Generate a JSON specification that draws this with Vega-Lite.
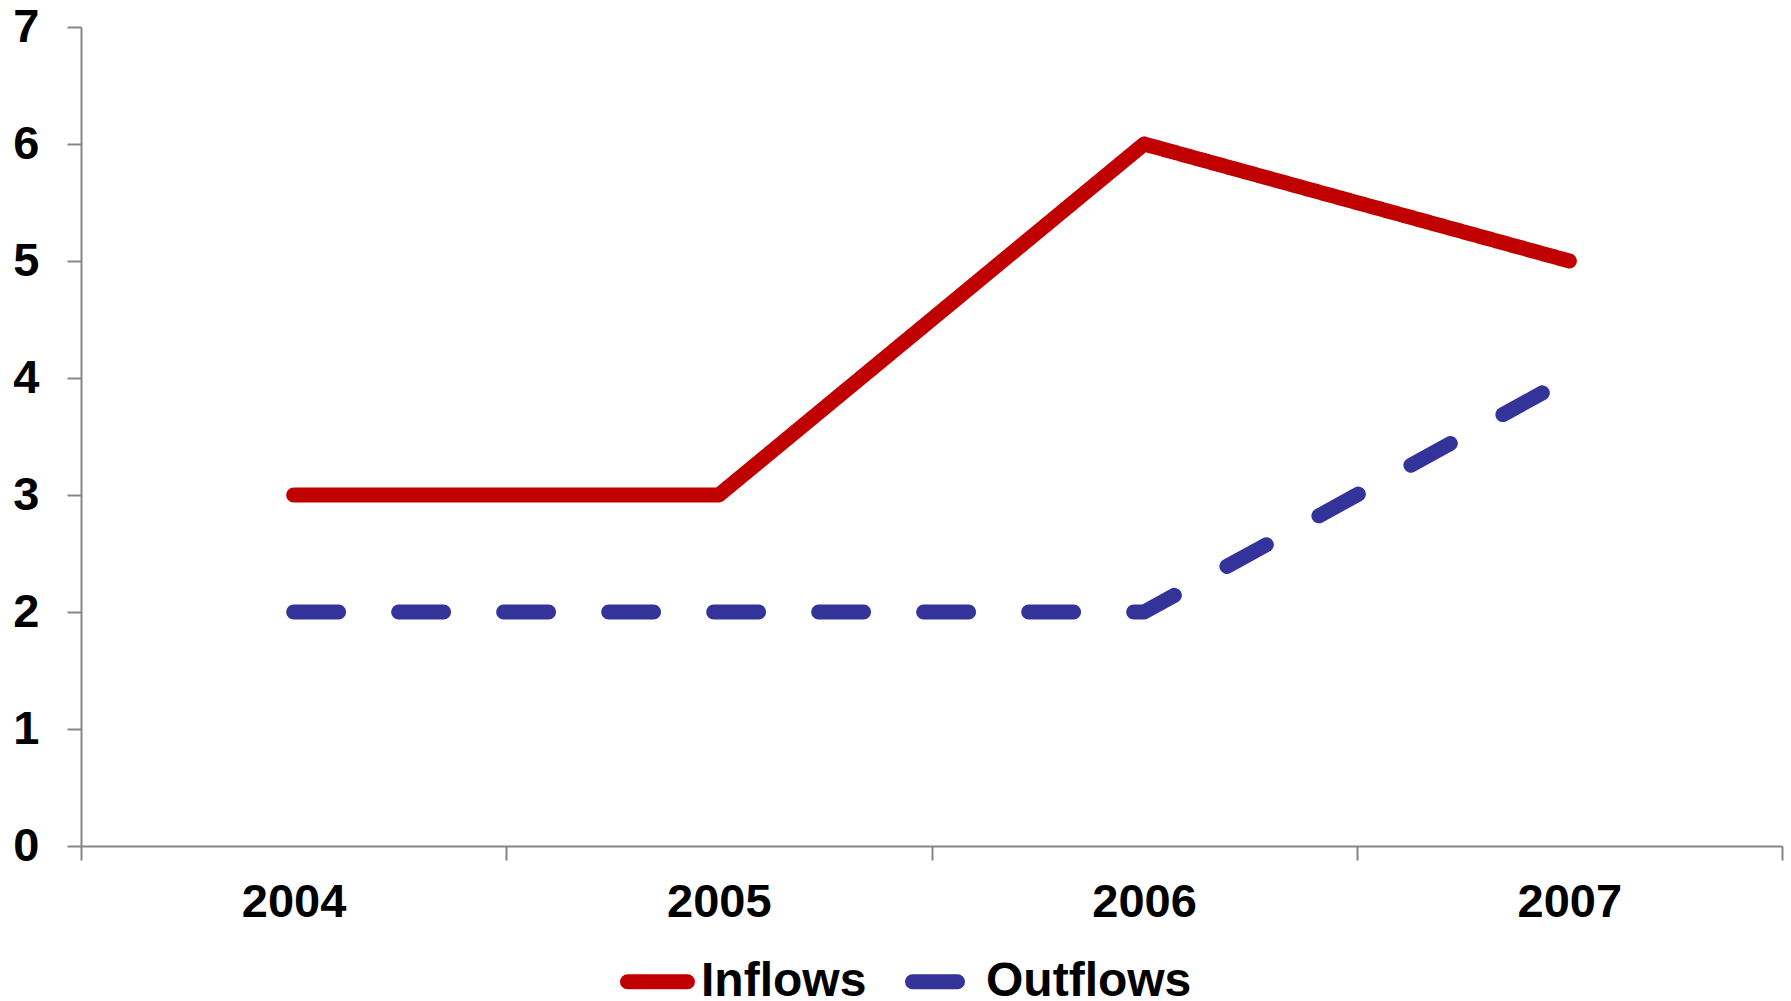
{
  "$schema": "https://vega.github.io/schema/vega-lite/v6.json",
  "width": 1701,
  "height": 819,
  "autosize": {"type": "none"},
  "padding": {"left": 81, "top": 27, "right": 9, "bottom": 155},
  "background": "white",
  "config": {"view": {"stroke": null}, "font": "Liberation Sans"},
  "data": {
    "values": [
      {"year": "2004", "series": "Inflows", "value": 3},
      {"year": "2005", "series": "Inflows", "value": 3},
      {"year": "2006", "series": "Inflows", "value": 6},
      {"year": "2007", "series": "Inflows", "value": 5},
      {"year": "2004", "series": "Outflows", "value": 2},
      {"year": "2005", "series": "Outflows", "value": 2},
      {"year": "2006", "series": "Outflows", "value": 2},
      {"year": "2007", "series": "Outflows", "value": 4}
    ]
  },
  "mark": {"type": "line", "strokeWidth": 15, "strokeCap": "round", "strokeJoin": "round"},
  "encoding": {
    "x": {
      "field": "year",
      "type": "ordinal",
      "bandPosition": 0.5,
      "scale": {"type": "band", "paddingInner": 0, "paddingOuter": 0},
      "axis": {
        "title": null,
        "labelAngle": 0,
        "tickBand": "extent",
        "labelFont": "Liberation Sans",
        "labelFontSize": 47,
        "labelFontWeight": "bold",
        "labelColor": "black",
        "domainColor": "#868686",
        "domainWidth": 2,
        "tickColor": "#868686",
        "tickWidth": 2,
        "tickSize": 14,
        "labelPadding": 19
      }
    },
    "y": {
      "field": "value",
      "type": "quantitative",
      "scale": {"domain": [0, 7], "nice": false, "zero": true},
      "axis": {
        "title": null,
        "grid": false,
        "values": [0, 1, 2, 3, 4, 5, 6, 7],
        "labelFont": "Liberation Sans",
        "labelFontSize": 47,
        "labelFontWeight": "bold",
        "labelColor": "black",
        "domainColor": "#868686",
        "domainWidth": 2,
        "tickColor": "#868686",
        "tickWidth": 2,
        "tickSize": 14,
        "labelPadding": 28
      }
    },
    "color": {
      "field": "series",
      "type": "nominal",
      "scale": {"domain": ["Inflows", "Outflows"], "range": ["#C00000", "#333399"]},
      "legend": {
        "title": null,
        "orient": "none",
        "legendX": 539,
        "legendY": 917,
        "direction": "horizontal",
        "symbolType": "stroke",
        "symbolSize": 3600,
        "symbolStrokeWidth": 15,
        "labelFont": "Liberation Sans",
        "labelFontSize": 48,
        "labelFontWeight": "bold",
        "labelColor": "black",
        "labelLimit": 400,
        "labelOffset": 6,
        "columnPadding": 15,
        "encode": {"symbols": {"update": {"strokeCap": {"value": "round"}}}}
      }
    },
    "strokeDash": {
      "field": "series",
      "type": "nominal",
      "scale": {"domain": ["Inflows", "Outflows"], "range": [[1, 0], [45, 60]]},
      "legend": {
        "title": null,
        "orient": "none",
        "legendX": 539,
        "legendY": 917,
        "direction": "horizontal",
        "symbolType": "stroke",
        "symbolSize": 3600,
        "symbolStrokeWidth": 15,
        "labelFont": "Liberation Sans",
        "labelFontSize": 48,
        "labelFontWeight": "bold",
        "labelColor": "black",
        "labelLimit": 400,
        "labelOffset": 6,
        "columnPadding": 15,
        "encode": {"symbols": {"update": {"strokeCap": {"value": "round"}}}}
      }
    }
  }
}
